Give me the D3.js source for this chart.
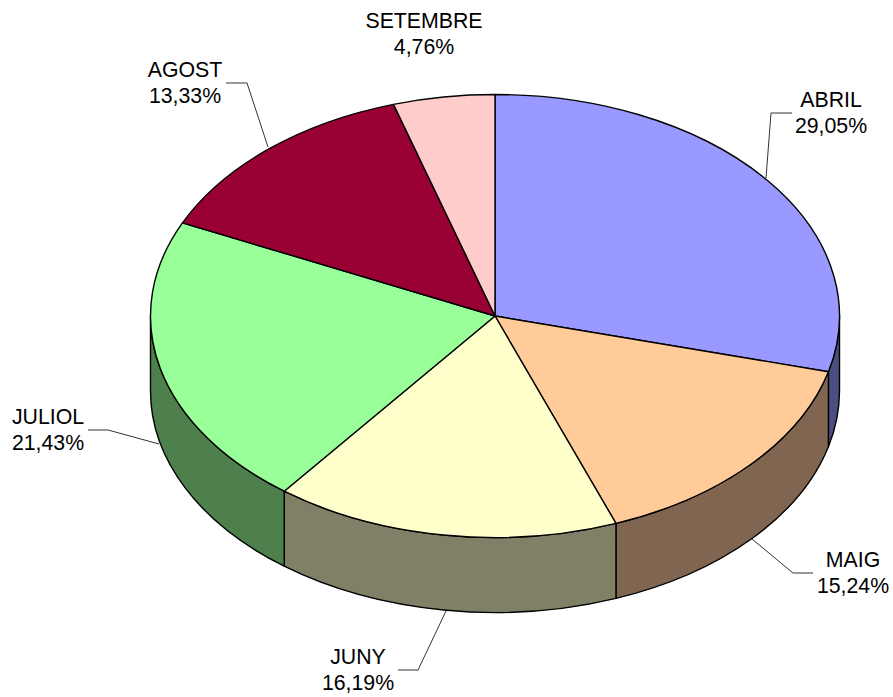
<!DOCTYPE html>
<html>
<head>
<meta charset="utf-8">
<script src="https://cdn.jsdelivr.net/npm/d3@7"></script>
<style>
html,body{margin:0;padding:0;background:#fff;}
svg{display:block;}
text{font-family:"Liberation Sans",Arial,sans-serif;font-size:21.3px;fill:#000;text-anchor:middle;}
</style>
</head>
<body>
<svg id="chart" width="893" height="697"></svg>
<script>
const months = ["ABRIL","MAIG","JUNY","JULIOL","AGOST","SETEMBRE"];
const shares = [29.05,15.24,16.19,21.43,13.33,4.76];
const shareLabels = ["29,05%","15,24%","16,19%","21,43%","13,33%","4,76%"];
const topColors = ["#9999FF","#FFCC99","#FFFFCC","#99FF99","#990033","#FFCCCC"];
const wallColors = ["#4D4D80","#806650","#808066","#4D804D","#4D001A","#806666"];

const W = 893, H = 697;
const cx = 495, cy = 316, rx = 344.5, ry = 221.5, depth = 75;
const svg = d3.select("#chart").attr("viewBox",[0,0,W,H]);

const pie = d3.pie().sort(null).value((d,i)=>shares[i]);
const arcs = pie(months);
const px = t => cx + rx*Math.sin(t);
const py = (t,dy=0) => cy + dy - ry*Math.cos(t);
const ell = (a,b,dy=0,sweep=1) =>
  `A${rx},${ry} 0 ${Math.abs(b-a)>Math.PI?1:0} ${sweep} ${px(b)},${py(b,dy)}`;

// walls: only the front half (pi/2..3pi/2) is visible
const wallPath = d => {
  const a = Math.max(d.startAngle, Math.PI/2), b = Math.min(d.endAngle, 3*Math.PI/2);
  if (b <= a) return null;
  return `M${px(a)},${py(a)}${ell(a,b)}L${px(b)},${py(b,depth)}${ell(b,a,depth,0)}Z`;
};
svg.append("g").selectAll("path").data(arcs).join("path")
  .attr("d",wallPath)
  .attr("fill",d=>wallColors[d.index])
  .attr("stroke","#000").attr("stroke-width",1.4).attr("stroke-linejoin","round");

// top face
svg.append("g").selectAll("path").data(arcs).join("path")
  .attr("d",d=>`M${cx},${cy}L${px(d.startAngle)},${py(d.startAngle)}${ell(d.startAngle,d.endAngle)}Z`)
  .attr("fill",d=>topColors[d.index])
  .attr("stroke","#000").attr("stroke-width",1.4).attr("stroke-linejoin","round");

// leaders and labels
const leaders = [
  [[792,113],[771,113],[766,178]],
  [[813,573],[793,573],[752,539]],
  [[398,670],[418,670],[446,611]],
  [[88,430],[108,430],[159,444]],
  [[226,83],[247,83],[268,147]],
  null
];
const labelPos = [[831,107],[853,567],[358,664],[48,424],[185,77],[424,28]];
const line = d3.line();
svg.append("g").selectAll("path").data(leaders.filter(Boolean)).join("path")
  .attr("d",line).attr("fill","none").attr("stroke","#333").attr("stroke-width",1);

const lab = svg.append("g").selectAll("text").data(months).join("text")
  .attr("x",(d,i)=>labelPos[i][0]).attr("y",(d,i)=>labelPos[i][1]);
lab.append("tspan").text(d=>d);
lab.append("tspan").attr("x",(d,i)=>labelPos[i][0]).attr("dy",26).text((d,i)=>shareLabels[i]);
</script>
</body>
</html>
